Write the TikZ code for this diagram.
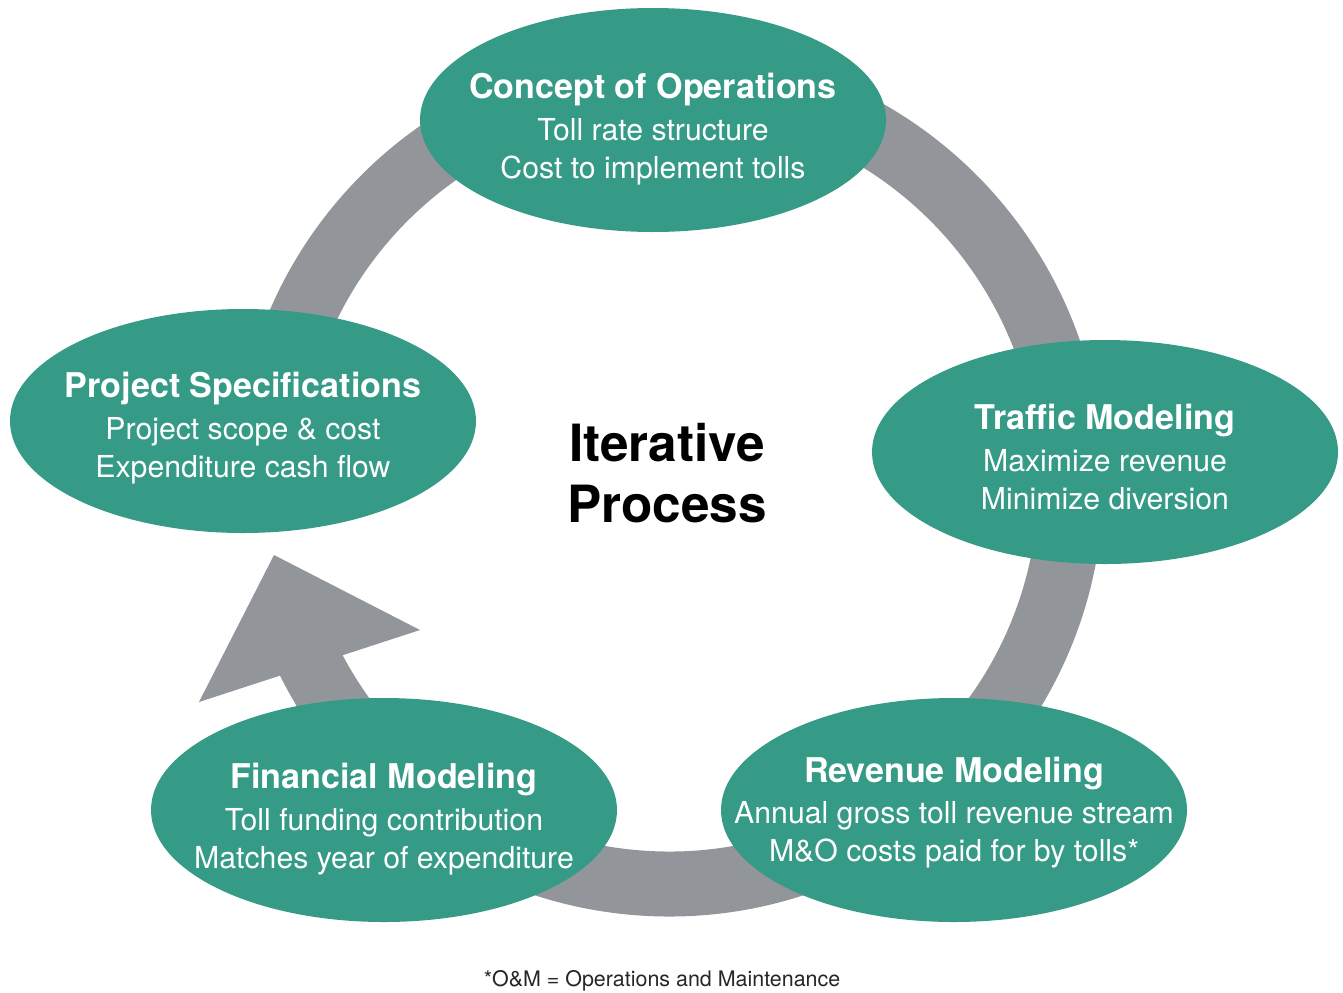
\documentclass[tikz,border=0pt]{standalone}
\usepackage{fontspec}
\setmainfont{TeX Gyre Heros}
\usetikzlibrary{shapes.geometric}
\definecolor{phaseteal}{RGB}{53,155,134}
\definecolor{ringgray}{RGB}{146,149,154}

\begin{document}
\begin{tikzpicture}[
  phase/.style={ellipse, fill=phaseteal, minimum width=4.66cm, minimum height=2.24cm, inner sep=0pt},
  phasetext/.style={align=center, text=white, font=\fontsize{8.6}{10.8}\selectfont, yshift=-0.09cm}
  ]
  \useasboundingbox (0,0) rectangle (13.43,9.92);
  \coordinate (hub) at (6.69,5.10);
  % ring and arrow head
  \draw[ringgray, line width=0.65cm] (hub) ++(175:4.02) arc[start angle=175, end angle=-154, radius=4.02];
  \fill[ringgray] (1.99,2.90) -- (2.74,4.37) -- (4.20,3.62) -- cycle;
  % phases
  \node[phase] (conops) at (6.53,8.72) {};
  \node[phase] (traffic) at (11.05,5.40) {};
  \node[phase] (revenue) at (9.54,1.82) {};
  \node[phase] (financial) at (3.84,1.82) {};
  \node[phase] (project) at (2.43,5.71) {};
  \node[phasetext] (conopstxt) at (conops) {{\fontsize{9.7}{10.8}\selectfont\bfseries Concept of Operations}\\[1pt] Toll rate structure\\ Cost to implement tolls};
  \node[phasetext, yshift=0.04cm] (traffictxt) at (traffic) {{\fontsize{9.7}{10.8}\selectfont\bfseries Traffic Modeling}\\[1pt] Maximize revenue\\ Minimize diversion};
  \node[phasetext, yshift=0.065cm] (revenuetxt) at (revenue) {{\fontsize{9.7}{10.8}\selectfont\bfseries Revenue Modeling}\\[1pt] Annual gross toll revenue stream\\ M\&O costs paid for by tolls*};
  \node[phasetext] (financialtxt) at (financial) {{\fontsize{9.7}{10.8}\selectfont\bfseries Financial Modeling}\\[1pt] Toll funding contribution\\ Matches year of expenditure};
  \node[phasetext, yshift=0.02cm] (projecttxt) at (project) {{\fontsize{9.7}{10.8}\selectfont\bfseries Project Specifications}\\[1pt] Project scope \& cost\\ Expenditure cash flow};
  % centre and note
  \node[align=center, font=\fontsize{14.6}{17.4}\selectfont\bfseries] (iter) at (6.67,5.19) {Iterative\\ Process};
  \node[font=\fontsize{6.1}{7}\selectfont, text=black!85] (note) at (6.62,0.11) {*O\&M = Operations and Maintenance};
\end{tikzpicture}
\end{document}
